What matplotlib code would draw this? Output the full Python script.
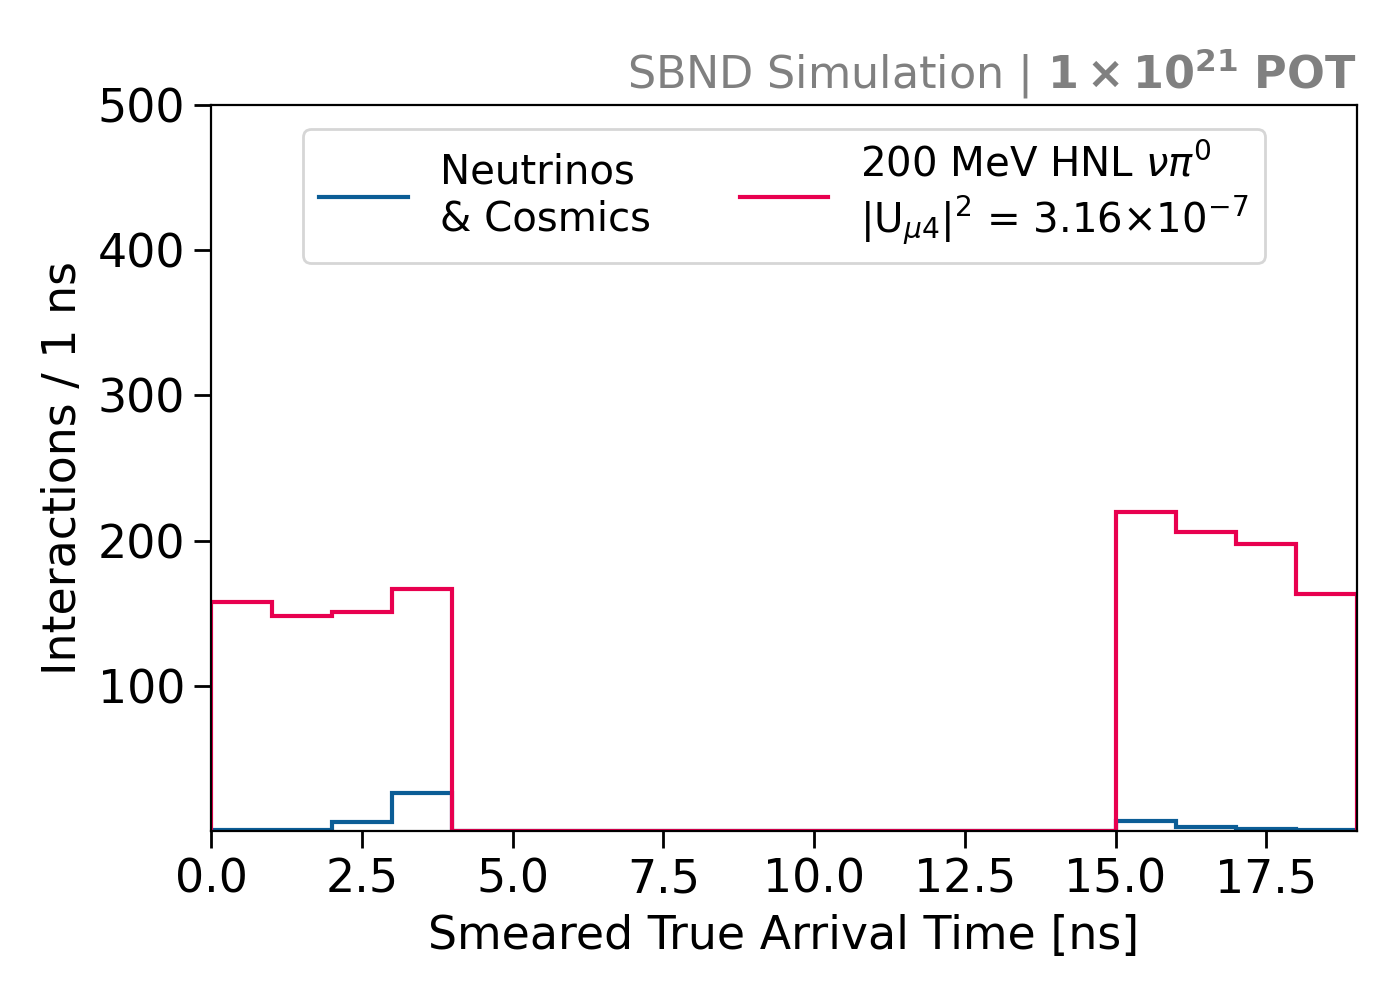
import numpy as np
import matplotlib.pyplot as plt

edges = np.arange(0, 20, 1)
neutrinos = [0.5, 1, 6, 26, 0, 0, 0, 0, 0, 0, 0, 0, 0, 0, 0, 7, 3, 1.5, 0.5]
hnl = [158, 148, 151, 167, 0, 0, 0, 0, 0, 0, 0, 0, 0, 0, 0, 220, 206, 198, 163]

plt.rcParams['font.size'] = 16
fig, ax = plt.subplots(figsize=(7, 5), dpi=200)
fig.subplots_adjust(left=0.151, right=0.969, top=0.895, bottom=0.169)

ax.stairs(neutrinos, edges, color='#0b5d96', lw=1.5, label='Neutrinos\n& Cosmics')
ax.stairs(hnl, edges, color='#e8004f', lw=1.5,
          label='200 MeV HNL $\\nu\\pi^0$\n$|\\mathrm{U}_{\\mu4}|^2$ = 3.16$\\times10^{-7}$')

ax.set_xlim(0, 19)
ax.set_ylim(0, 500)
ax.set_yticks([100, 200, 300, 400, 500])
ax.tick_params(length=6, width=1, labelsize=16.5)
ax.set_xlabel('Smeared True Arrival Time [ns]', fontsize=16.5)
ax.set_ylabel('Interactions / 1 ns', fontsize=16.5)
ax.set_title('SBND Simulation | $\\mathbf{1\\times10^{21}}$ $\\bf{POT}$', loc='right',
             color='grey', fontsize=16, pad=6)
ax.legend(ncol=2, loc='upper center', fontsize=14.5, handlelength=2.2,
          columnspacing=2.2, bbox_to_anchor=(0.5, 0.995))
fig.savefig('out.png', dpi=200)
